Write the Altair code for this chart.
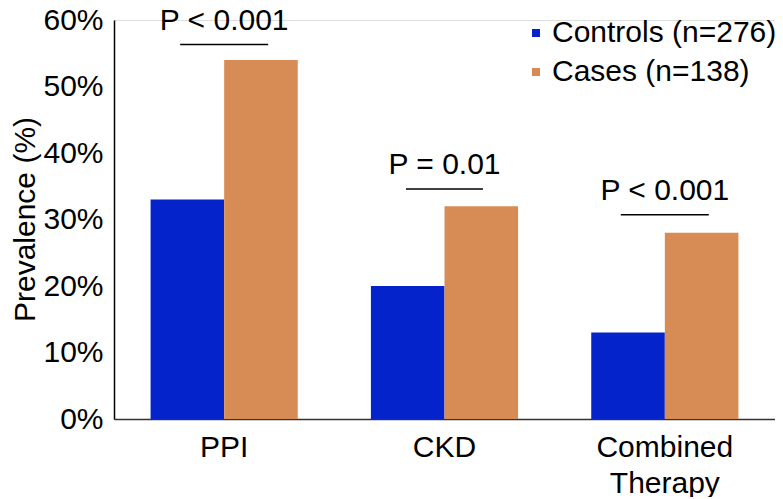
import altair as alt
import pandas as pd

CATEGORIES = ["PPI", "CKD", "Combined Therapy"]
GROUPS = ["Controls (n=276)", "Cases (n=138)"]
CONTROLS = [0.33, 0.20, 0.13]
CASES = [0.54, 0.32, 0.28]
P_TEXT = ["P < 0.001", "P = 0.01", "P < 0.001"]
BRACKET_Y = [0.563, 0.346, 0.307]
COLORS = ["#0423CB", "#D88C55"]

FONT = "Liberation Sans"
FS = 30

bars_df = pd.DataFrame(
    [{"category": c, "group": GROUPS[0], "value": v} for c, v in zip(CATEGORIES, CONTROLS)]
    + [{"category": c, "group": GROUPS[1], "value": v} for c, v in zip(CATEGORIES, CASES)]
)
p_df = pd.DataFrame({"category": CATEGORIES, "p": P_TEXT, "y": BRACKET_Y})

x_enc = alt.X(
    "category:N",
    sort=CATEGORIES,
    scale=alt.Scale(paddingInner=0.332, paddingOuter=0.166),
    axis=alt.Axis(
        title=None,
        labelAngle=0,
        ticks=False,
        labelPadding=13,
        labelFontSize=FS,
        labelFont=FONT,
        labelColor="black",
        labelLineHeight=36,
        labelExpr="length(datum.label) > 10 ? split(datum.label, ' ') : datum.label",
        domainColor="#333333",
        domainWidth=1.5,
    ),
)

y_scale = alt.Scale(domain=[0, 0.6])

bars = alt.Chart(bars_df).mark_bar().encode(
    x=x_enc,
    xOffset=alt.XOffset("group:N", sort=GROUPS, scale=alt.Scale(paddingInner=0, paddingOuter=0)),
    y=alt.Y(
        "value:Q",
        scale=y_scale,
        axis=alt.Axis(
            title="Prevalence (%)",
            format=".0%",
            values=[0, 0.1, 0.2, 0.3, 0.4, 0.5, 0.6],
            grid=False,
            ticks=False,
            labelPadding=11,
            labelFontSize=FS,
            labelFont=FONT,
            labelColor="black",
            titleFontSize=FS,
            titleFont=FONT,
            titleFontWeight="normal",
            titleColor="black",
            titleX=-89,
            titleY=199,
            titleBaseline="middle",
            domainColor="black",
            domainWidth=1.5,
        ),
    ),
    color=alt.Color(
        "group:N",
        sort=GROUPS,
        scale=alt.Scale(domain=GROUPS, range=COLORS),
        legend=alt.Legend(
            title=None,
            orient="none",
            legendX=407,
            legendY=-2,
            symbolType="square",
            symbolSize=64,
            symbolStrokeWidth=0,
            labelFontSize=FS,
            labelFont=FONT,
            labelColor="black",
            labelOffset=1,
            rowPadding=9,
            padding=0,
            labelLimit=400,
        ),
    ),
)

rules_wide = alt.Chart(p_df).transform_filter(
    alt.datum.category != "CKD"
).mark_rule(color="black", strokeWidth=1.5, xOffset=-44, x2Offset=44).encode(
    x=alt.X("category:N", sort=CATEGORIES),
    x2=alt.X2("category:N"),
    y=alt.Y("y:Q", scale=y_scale),
)

rules_narrow = alt.Chart(p_df).transform_filter(
    alt.datum.category == "CKD"
).mark_rule(color="black", strokeWidth=1.5, xOffset=-38.5, x2Offset=38.5).encode(
    x=alt.X("category:N", sort=CATEGORIES),
    x2=alt.X2("category:N"),
    y=alt.Y("y:Q", scale=y_scale),
)

texts = alt.Chart(p_df).mark_text(
    fontSize=FS, font=FONT, color="black", baseline="alphabetic", dy=-15
).encode(
    x=alt.X("category:N", sort=CATEGORIES),
    y=alt.Y("y:Q", scale=y_scale),
    text="p:N",
)

chart = alt.layer(bars, rules_wide, rules_narrow, texts).properties(
    width=661,
    height=399,
    autosize=alt.AutoSizeParams(type="none"),
    padding={"left": 106, "top": 12, "right": 0, "bottom": 78},
).configure_view(stroke=None).configure(background="white")

chart.save("out.html", embed_options={"renderer": "svg", "actions": False})
